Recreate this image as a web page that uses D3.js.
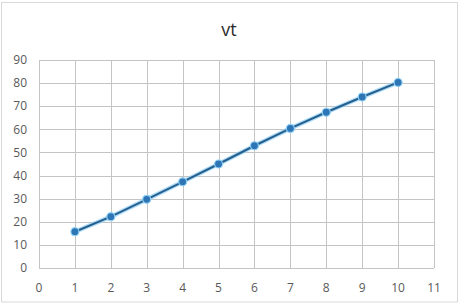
<!DOCTYPE html>
<html>
<head>
<meta charset="utf-8">
<script src="https://cdn.jsdelivr.net/npm/d3@7"></script>
<style>
  body { margin: 0; background: #fff; }
  svg { display: block; font-family: "Open Sans", "Noto Sans", sans-serif; }
</style>
</head>
<body>
<svg width="459" height="306"></svg>
<script>
var title = "vt";
var xValues = [1, 2, 3, 4, 5, 6, 7, 8, 9, 10];
var yValues = [15.7, 22.2, 29.7, 37.3, 45, 52.9, 60.4, 67.4, 74, 80.3];
var xTicks = [0, 1, 2, 3, 4, 5, 6, 7, 8, 9, 10, 11];
var yTicks = [0, 10, 20, 30, 40, 50, 60, 70, 80, 90];

var svg = d3.select("svg");
var margin = {"top": 60, "right": 25, "bottom": 38, "left": 39};
var width = +svg.attr("width") - margin.left - margin.right;
var height = +svg.attr("height") - margin.top - margin.bottom;

// chart frame
svg.append("rect")
    .attr("x", 1.5).attr("y", 2.5)
    .attr("width", 456).attr("height", 299.5)
    .attr("fill", "none")
    .attr("stroke", "#d9d9d9");

svg.append("text")
    .attr("x", 229).attr("y", 36)
    .attr("text-anchor", "middle")
    .attr("font-size", 18)
    .attr("fill", "#2b2b2b")
    .text(title);

var g = svg.append("g").attr("transform", "translate(" + margin.left + "," + margin.top + ")");

var x = d3.scaleLinear().domain([0, 11]).range([0, width]);
var y = d3.scaleLinear().domain([0, 90]).range([height, 0]);

var data = xValues.map(function (d, i) { return {x: d, y: yValues[i]}; });

// gridlines
g.selectAll(".vgrid")
    .data(xTicks)
    .enter().append("line")
    .attr("x1", function (d) { return Math.round(x(d)) + 0.5; })
    .attr("x2", function (d) { return Math.round(x(d)) + 0.5; })
    .attr("y1", 0).attr("y2", height)
    .attr("stroke", "#c4c4c4");

g.selectAll(".hgrid")
    .data(yTicks)
    .enter().append("line")
    .attr("y1", function (d) { return Math.round(y(d)) + 0.5; })
    .attr("y2", function (d) { return Math.round(y(d)) + 0.5; })
    .attr("x1", 0).attr("x2", width)
    .attr("stroke", "#c4c4c4");

// tick labels
g.selectAll(".ylab")
    .data(yTicks)
    .enter().append("text")
    .attr("x", -12)
    .attr("y", function (d) { return y(d); })
    .attr("dy", "0.35em")
    .attr("text-anchor", "end")
    .attr("font-size", 12)
    .attr("fill", "#595959")
    .text(function (d) { return d; });

g.selectAll(".xlab")
    .data(xTicks)
    .enter().append("text")
    .attr("x", function (d) { return x(d); })
    .attr("y", height + 20)
    .attr("dy", "0.35em")
    .attr("text-anchor", "middle")
    .attr("font-size", 12)
    .attr("fill", "#595959")
    .text(function (d) { return d; });

var line = d3.line()
    .x(function (d) { return x(d.x); })
    .y(function (d) { return y(d.y); });

// soft glow under the series
g.append("path")
    .datum(data)
    .attr("d", line)
    .attr("fill", "none")
    .attr("stroke", "#8fd0f5")
    .attr("stroke-width", 4.5)
    .attr("stroke-opacity", 0.7);

g.append("path")
    .datum(data)
    .attr("d", line)
    .attr("fill", "none")
    .attr("stroke", "#265f8e")
    .attr("stroke-width", 2);

g.selectAll(".pt")
    .data(data)
    .enter().append("circle")
    .attr("cx", function (d) { return x(d.x); })
    .attr("cy", function (d) { return y(d.y); })
    .attr("r", 4)
    .attr("fill", "#2e75b6")
    .attr("stroke", "#8fd0f5")
    .attr("stroke-width", 1.2);
</script>
</body>
</html>
